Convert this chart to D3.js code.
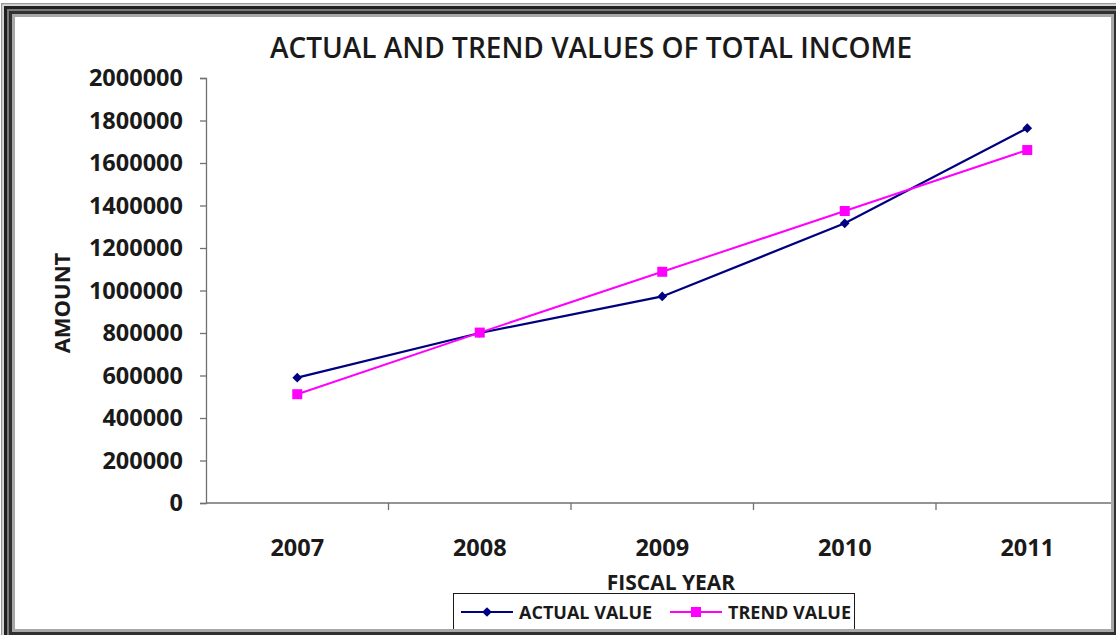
<!DOCTYPE html>
<html>
<head>
<meta charset="utf-8">
<script src="https://cdn.jsdelivr.net/npm/d3@7"></script>
<style>
  html, body { margin: 0; padding: 0; background: #fff; }
  svg { display: block; }
  text { font-family: "Open Sans", "DejaVu Sans", sans-serif; font-weight: 700; fill: #1a1a1a; }
</style>
</head>
<body>
<svg id="chart" width="1116" height="635"></svg>
<script>
// Fiscal years and the two income series
const years = ["2007", "2008", "2009", "2010", "2011"];
const actualValues = [590000, 800000, 972000, 1316000, 1764000];
const trendValues = [512000, 802000, 1088000, 1374000, 1661000];
const yTicks = [0, 200000, 400000, 600000, 800000, 1000000, 1200000, 1400000, 1600000, 1800000, 2000000];
const seriesNames = ["ACTUAL VALUE", "TREND VALUE"];

const W = 1116, H = 635;
const svg = d3.select("#chart");

// Framed border (multi-line, cut at the right/bottom edges)
const frame = { x0: 1, y0: 3, x1: 1125, y1: 643 };
const layers = [
  { off: 0.75, w: 1.5, c: "#9a9a9a" },
  { off: 2.5, w: 1, c: "#d8d8d8" },
  { off: 4.5, w: 3, c: "#202020" },
  { off: 7, w: 2, c: "#7a7a7a" },
  { off: 9.5, w: 3, c: "#303030" },
  { off: 12.5, w: 3, c: "#a8a8a8" }
];
layers.forEach(l => {
  svg.append("rect")
    .attr("x", frame.x0 + l.off).attr("y", frame.y0 + l.off)
    .attr("width", frame.x1 - frame.x0 - 2 * l.off)
    .attr("height", frame.y1 - frame.y0 - 2 * l.off)
    .attr("fill", "none").attr("stroke", l.c).attr("stroke-width", l.w);
});
const inner = { x0: frame.x0 + 14, y0: frame.y0 + 14, x1: frame.x1 - 14, y1: frame.y1 - 14 };

svg.append("defs").append("clipPath").attr("id", "inner")
  .append("rect")
  .attr("x", inner.x0).attr("y", inner.y0)
  .attr("width", inner.x1 - inner.x0).attr("height", inner.y1 - inner.y0);

const plot = { left: 206, right: 1118.5, top: 78, bottom: 503 };

const x = d3.scaleBand().domain(years).range([plot.left, plot.right]);
const y = d3.scaleLinear().domain([0, 2000000]).range([plot.bottom, plot.top]);

const g = svg.append("g").attr("clip-path", "url(#inner)");

// Title
g.append("text")
  .attr("x", 591).attr("y", 58)
  .attr("text-anchor", "middle")
  .attr("font-size", 28).style("font-weight", 600)
  .text("ACTUAL AND TREND VALUES OF TOTAL INCOME");

// Y axis
const yAxis = d3.axisLeft(y).tickValues(yTicks).tickSize(6).tickPadding(17)
  .tickFormat(d3.format("d"));
const yg = g.append("g").attr("transform", `translate(${plot.left},0)`).call(yAxis);
yg.select(".domain").attr("stroke", "#707070").attr("stroke-width", 1.3);
yg.selectAll(".tick line").attr("stroke", "#707070").attr("stroke-width", 1.3);
yg.selectAll(".tick text")
  .attr("font-size", 23.5).attr("font-family", "Open Sans").attr("font-weight", 700)
  .attr("fill", "#1a1a1a");

// X axis: ticks at category boundaries, labels at category centres
g.append("line")
  .attr("x1", plot.left).attr("x2", plot.right)
  .attr("y1", plot.bottom).attr("y2", plot.bottom)
  .attr("stroke", "#707070").attr("stroke-width", 1.3);
const bounds = years.map(d => x(d)).concat([x(years[years.length - 1]) + x.bandwidth()]);
g.selectAll(".xtick").data(bounds.slice(1)).join("line")
  .attr("class", "xtick")
  .attr("x1", d => d).attr("x2", d => d)
  .attr("y1", plot.bottom).attr("y2", plot.bottom + 7)
  .attr("stroke", "#707070").attr("stroke-width", 1.3);
g.selectAll(".xlab").data(years).join("text")
  .attr("class", "xlab")
  .attr("x", d => x(d) + x.bandwidth() / 2)
  .attr("y", 556)
  .attr("text-anchor", "middle")
  .attr("font-size", 23.5)
  .text(d => d);

// Axis titles
g.append("text")
  .attr("transform", "translate(70,303) rotate(-90)")
  .attr("text-anchor", "middle")
  .attr("font-size", 22)
  .text("AMOUNT");
g.append("text")
  .attr("x", 671).attr("y", 590)
  .attr("text-anchor", "middle")
  .attr("font-size", 21)
  .text("FISCAL YEAR");

// Series lines
const cx = d => x(d) + x.bandwidth() / 2;
const line = d3.line().x(d => cx(d.year)).y(d => y(d.value));
const actual = years.map((yr, i) => ({ year: yr, value: actualValues[i] }));
const trend = years.map((yr, i) => ({ year: yr, value: trendValues[i] }));

const NAVY = "#000080", MAGENTA = "#ff00ff";

g.append("path").datum(actual).attr("d", line)
  .attr("fill", "none").attr("stroke", NAVY).attr("stroke-width", 2.2);
g.append("path").datum(trend).attr("d", line)
  .attr("fill", "none").attr("stroke", MAGENTA).attr("stroke-width", 2);

const diamond = d3.symbol().type(d3.symbolDiamond2).size(60);
const square = d3.symbol().type(d3.symbolSquare).size(100);

g.selectAll(".mk-a").data(actual).join("path")
  .attr("class", "mk-a")
  .attr("transform", d => `translate(${cx(d.year)},${y(d.value)})`)
  .attr("d", diamond).attr("fill", NAVY);
g.selectAll(".mk-t").data(trend).join("path")
  .attr("class", "mk-t")
  .attr("transform", d => `translate(${cx(d.year)},${y(d.value)})`)
  .attr("d", square).attr("fill", MAGENTA);

// Legend
const lg = g.append("g");
lg.append("rect")
  .attr("x", 453.5).attr("y", 593.5).attr("width", 401).attr("height", 36)
  .attr("fill", "#fff").attr("stroke", "#1a1a1a").attr("stroke-width", 1);
const legendItems = [
  { name: seriesNames[0], color: NAVY, sym: diamond, x0: 461 },
  { name: seriesNames[1], color: MAGENTA, sym: square, x0: 670 }
];
legendItems.forEach(it => {
  lg.append("line")
    .attr("x1", it.x0).attr("x2", it.x0 + 52)
    .attr("y1", 612).attr("y2", 612)
    .attr("stroke", it.color).attr("stroke-width", 2);
  lg.append("path")
    .attr("transform", `translate(${it.x0 + 26},612)`)
    .attr("d", it.sym).attr("fill", it.color);
  lg.append("text")
    .attr("x", it.x0 + 58).attr("y", 618.5)
    .attr("font-size", 18)
    .text(it.name);
});
</script>
</body>
</html>
